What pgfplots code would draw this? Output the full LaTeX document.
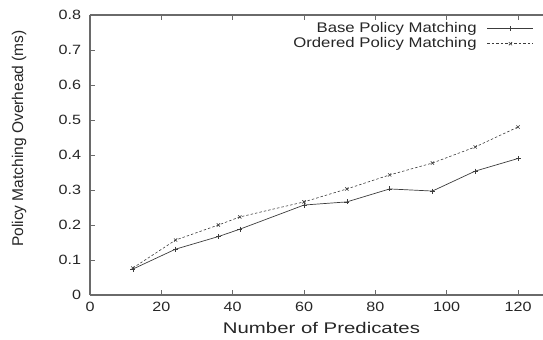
\documentclass[border=0pt]{standalone}
\usepackage{fontspec}
\setmainfont[FakeStretch=1.2]{Liberation Sans}
\newfontfamily\ylabfont{Liberation Sans}
\newfontfamily\xlabfont[FakeStretch=1.32]{Liberation Sans}
\usepackage{pgfplots}
\pgfplotsset{compat=1.18}
\definecolor{axgray}{HTML}{6A6A6A}
\definecolor{lngray}{HTML}{3C3C3C}
\begin{document}
\begin{tikzpicture}
\begin{axis}[
  name=ax,
  scale only axis,
  width=453bp, height=280bp,
  xmin=0, xmax=127, ymin=0, ymax=0.8,
  xtick={0,20,40,60,80,100,120},
  ytick={0,0.1,0.2,0.3,0.4,0.5,0.6,0.7,0.8},
  yticklabels={0,0.1,0.2,0.3,0.4,0.5,0.6,0.7,0.8},
  /pgf/number format/assume math mode=true,
  tick align=inside,
  major tick length=5bp,
  axis y line*=left,
  axis line style={axgray, line width=1.1pt},
  tick style={axgray, line width=0.8pt},
  ticklabel style={font=\fontsize{13.5}{15}\selectfont, text=black!85},
  yticklabel style={xshift=-5.5bp},
  xticklabel style={yshift=-3.5bp},
  xlabel={\xlabfont Number of Predicates},
  ylabel={\ylabfont Policy Matching Overhead (ms)},
  every axis x label/.style={at={(axis description cs:0.511,0)}, anchor=base, yshift=-39bp,
    font=\fontsize{15.5}{17}\selectfont, text=black!85},
  every axis y label/.style={at={(axis description cs:0,0.559)}, anchor=center, rotate=90, yshift=71bp,
    font=\fontsize{15.6}{17}\selectfont, text=black!85},
  legend style={draw=none, fill=none, inner sep=0pt, at={(axis cs:127,0.8)}, xshift=-9bp, yshift=-6.5bp,
    anchor=north east, row sep=1bp, column sep=10bp,
    font=\fontsize{14}{15}\selectfont, text=black!85,
    nodes={inner sep=0.5bp, text height=10bp, text depth=3bp}},
  legend cell align=right,
  legend plot pos=right,
  legend image code/.code={
    \draw[mark repeat=2, mark phase=2, #1] plot coordinates {(0bp,0bp) (23bp,0bp) (46bp,0bp)};
  },
]
\addplot[lngray, line width=0.7pt, mark=+, mark size=2.5pt, mark options={solid, line width=0.6pt}] coordinates {
(12,0.074) (24,0.131) (36,0.167) (42,0.188) (60,0.257) (72,0.266) (84,0.303) (96,0.297) (108,0.354) (120,0.39)
};
\addlegendentry{Base Policy Matching}
\addplot[lngray, line width=0.6pt, dash pattern=on 2.5bp off 2bp, mark=x, mark size=2.3pt, mark options={solid, line width=0.6pt}] coordinates {
(12,0.077) (24,0.157) (36,0.2) (42,0.223) (60,0.266) (72,0.303) (84,0.343) (96,0.377) (108,0.423) (120,0.48)
};
\addlegendentry{Ordered Policy Matching}
\end{axis}
\pgfresetboundingbox
\path ([xshift=-90bp,yshift=-45bp]ax.south west) rectangle ([yshift=15bp]ax.north east);
\end{tikzpicture}
\end{document}
